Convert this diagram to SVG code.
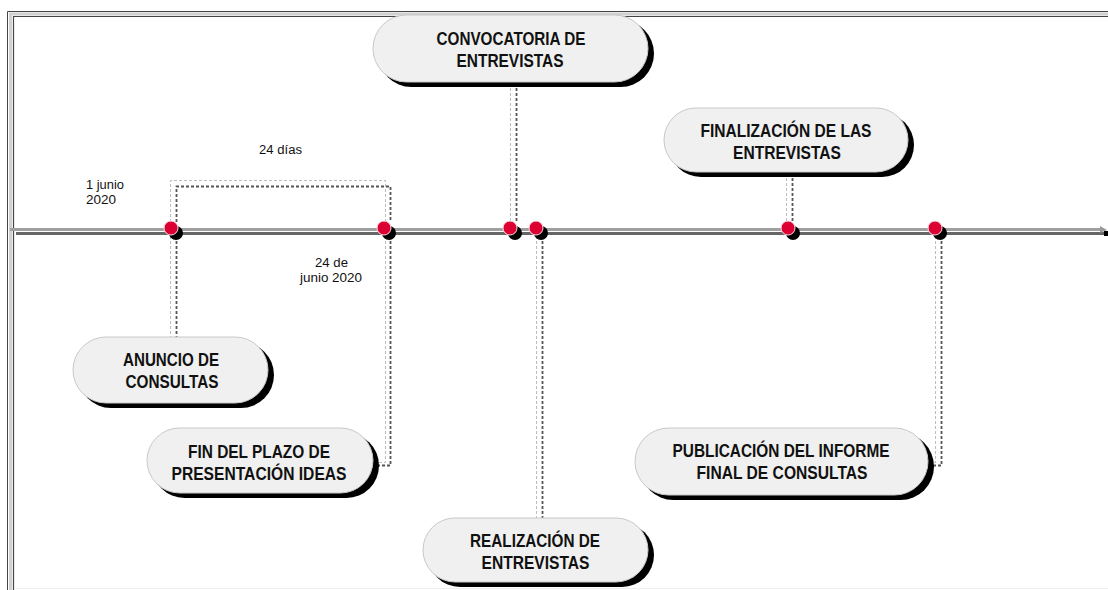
<svg xmlns="http://www.w3.org/2000/svg" width="1108" height="590" viewBox="0 0 1108 590">
<defs>
<style>
.pill{fill:#f0f0f0;stroke:#c8c8c8;stroke-width:1}
.shadow{fill:#000}
.lbl{font-family:"Liberation Sans",Arial,sans-serif;font-weight:bold;font-size:18px;fill:#111;text-anchor:middle}
.note{font-family:"Liberation Sans",Arial,sans-serif;font-size:12.5px;fill:#111}
.dl{fill:none;stroke:#bdbdbd;stroke-width:1;stroke-dasharray:3,2}
.dd{fill:none;stroke:#555;stroke-width:1.8;stroke-dasharray:3,2}
.dot{fill:#dd0033;stroke:#fbe0e6;stroke-width:1}
.dots{fill:#000}
</style>
</defs>
<rect width="1108" height="590" fill="#fff"/>
<g id="frame" fill="none">
<path d="M7.5,590 V11.5 H1108" stroke="#444" stroke-width="1"/>
<path d="M10.5,590 V14 H1108" stroke="#d0d0d0" stroke-width="3"/>
<path d="M13.5,590 V16.5 H1108" stroke="#444" stroke-width="1.2"/>
<path d="M14,588.5 H1108" stroke="#eee" stroke-width="1"/>
</g>
<g id="timeline">
<line x1="16" y1="233.5" x2="1104" y2="233.5" stroke="#666" stroke-width="3"/>
<line x1="10" y1="229.5" x2="1100" y2="229.5" stroke="#a0a0a0" stroke-width="3"/>
<polygon points="1100,226 1107,230 1100,233" fill="#999"/>
<rect x="1104" y="231" width="4" height="5" fill="#000"/>
</g>
<g id="connectors">
<path class="dl" d="M170.5,222 V180.5 H385.5 V222"/>
<path class="dd" d="M176.5,222 V186.5 H390.5 V222"/>
<path class="dl" d="M170.5,236 V337"/>
<path class="dd" d="M176.5,236 V337"/>
<path class="dl" d="M385.5,236 V462.5 H374"/>
<path class="dd" d="M390.5,236 V465.5 H376"/>
<path class="dl" d="M510.5,83 V222"/>
<path class="dd" d="M516.5,83 V222"/>
<path class="dl" d="M536.5,236 V518"/>
<path class="dd" d="M542.5,236 V518"/>
<path class="dl" d="M786.5,173 V222"/>
<path class="dd" d="M792.5,173 V222"/>
<path class="dl" d="M935.5,236 V462.5 H929"/>
<path class="dd" d="M941.5,236 V465.5 H931"/>
</g>
<g id="markers">
<circle class="dots" cx="176" cy="233" r="7"/><circle class="dot" cx="171" cy="228" r="7"/>
<circle class="dots" cx="389" cy="233" r="7"/><circle class="dot" cx="384" cy="228" r="7"/>
<circle class="dots" cx="515" cy="233" r="7"/><circle class="dot" cx="510" cy="228" r="7"/>
<circle class="dots" cx="541" cy="233" r="7"/><circle class="dot" cx="536" cy="228" r="7"/>
<circle class="dots" cx="793" cy="233" r="7"/><circle class="dot" cx="788" cy="228" r="7"/>
<circle class="dots" cx="940" cy="233" r="7"/><circle class="dot" cx="935" cy="228" r="7"/>
</g>
<g id="notes">
<text class="note" x="259" y="154" textLength="43" lengthAdjust="spacingAndGlyphs">24 días</text>
<text class="note" x="86" y="189" textLength="38" lengthAdjust="spacingAndGlyphs">1 junio</text>
<text class="note" x="86" y="204" textLength="30" lengthAdjust="spacingAndGlyphs">2020</text>
<text class="note" x="315" y="267" textLength="33" lengthAdjust="spacingAndGlyphs">24 de</text>
<text class="note" x="300" y="282" textLength="62" lengthAdjust="spacingAndGlyphs">junio 2020</text>
</g>
<g id="n-convocatoria">
<rect class="shadow" x="378" y="20" width="276" height="67" rx="33.5"/>
<rect class="pill" x="373" y="15" width="275" height="67" rx="33.5"/>
<text class="lbl" x="511" y="45" textLength="149" lengthAdjust="spacingAndGlyphs">CONVOCATORIA DE</text>
<text class="lbl" x="510" y="67" textLength="107" lengthAdjust="spacingAndGlyphs">ENTREVISTAS</text>
</g>
<g id="n-finalizacion">
<rect class="shadow" x="669" y="113" width="245" height="64" rx="32"/>
<rect class="pill" x="664" y="108" width="244" height="64" rx="32"/>
<text class="lbl" x="786" y="137" textLength="171" lengthAdjust="spacingAndGlyphs">FINALIZACIÓN DE LAS</text>
<text class="lbl" x="787" y="159" textLength="108" lengthAdjust="spacingAndGlyphs">ENTREVISTAS</text>
</g>
<g id="n-anuncio">
<rect class="shadow" x="78" y="342" width="196" height="66" rx="33"/>
<rect class="pill" x="73" y="337" width="195" height="66" rx="33"/>
<text class="lbl" x="171" y="366" textLength="96" lengthAdjust="spacingAndGlyphs">ANUNCIO DE</text>
<text class="lbl" x="172" y="388" textLength="93" lengthAdjust="spacingAndGlyphs">CONSULTAS</text>
</g>
<g id="n-finplazo">
<rect class="shadow" x="152" y="433" width="227" height="65" rx="32.5"/>
<rect class="pill" x="147" y="428" width="226" height="65" rx="32.5"/>
<text class="lbl" x="259" y="458" textLength="142" lengthAdjust="spacingAndGlyphs">FIN DEL PLAZO DE</text>
<text class="lbl" x="259" y="480" textLength="175" lengthAdjust="spacingAndGlyphs">PRESENTACIÓN IDEAS</text>
</g>
<g id="n-realizacion">
<rect class="shadow" x="428" y="523" width="226" height="64" rx="32"/>
<rect class="pill" x="423" y="518" width="225" height="64" rx="32"/>
<text class="lbl" x="535" y="547" textLength="130" lengthAdjust="spacingAndGlyphs">REALIZACIÓN DE</text>
<text class="lbl" x="535.5" y="569" textLength="108" lengthAdjust="spacingAndGlyphs">ENTREVISTAS</text>
</g>
<g id="n-publicacion">
<rect class="shadow" x="640" y="433" width="294" height="67" rx="33.5"/>
<rect class="pill" x="635" y="428" width="293" height="67" rx="33.5"/>
<text class="lbl" x="781" y="457" textLength="217" lengthAdjust="spacingAndGlyphs">PUBLICACIÓN DEL INFORME</text>
<text class="lbl" x="782" y="479" textLength="171" lengthAdjust="spacingAndGlyphs">FINAL DE CONSULTAS</text>
</g>
</svg>
